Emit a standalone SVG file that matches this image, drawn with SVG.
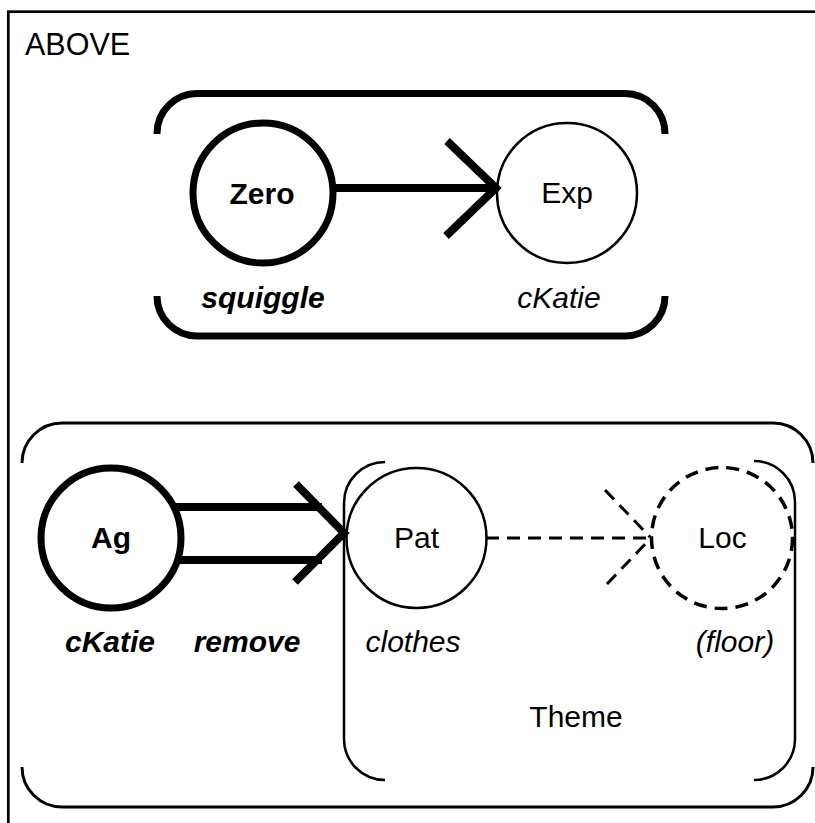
<svg xmlns="http://www.w3.org/2000/svg" width="815" height="823" viewBox="0 0 815 823">
<style>
text{font-family:"Liberation Sans",Arial,sans-serif;font-size:30px;fill:#000}
.c{text-anchor:middle}
.b{font-weight:bold}
.i{font-style:italic}
.ln{fill:none;stroke:#000}
</style>
<rect width="815" height="823" fill="#fff"/>
<g id="frame">
<rect class="ln" x="8.3" y="11.7" width="1000" height="1000" stroke-width="2.7"/>
<text x="25" y="55" style="font-size:30.5px">ABOVE</text>
</g>
<g id="top-group">
<path class="ln" stroke-width="7" d="M157,134 A40,40 0 0 1 197,93.5 L625,93.5 A40,40 0 0 1 665,134 M157,296 A40,40 0 0 0 197,336 L625,336 A40,40 0 0 0 665,296"/>
</g>
<g id="bottom-group">
<path class="ln" stroke-width="3" d="M22,463 A40,40 0 0 1 62,423 L773,423 A40,40 0 0 1 813,463 M22,767 A40,40 0 0 0 62,807 L773,807 A40,40 0 0 0 813,767"/>
</g>
<g id="theme">
<path class="ln" stroke-width="2.5" d="M385,462 A41,41 0 0 0 344,503 L344,739 A41,41 0 0 0 385,780 M754,461 A41,41 0 0 1 795,502 L795,739 A41,41 0 0 1 754,780"/>
<text class="c" x="576" y="727">Theme</text>
</g>
<g id="connectors">
<line class="ln" x1="334" y1="188" x2="492" y2="188" stroke-width="8"/>
<polyline class="ln" points="447,141 496,188 446,236" stroke-width="8"/>
<line class="ln" x1="172" y1="507" x2="322" y2="507" stroke-width="8"/>
<line class="ln" x1="175" y1="560" x2="322" y2="560" stroke-width="8"/>
<polyline class="ln" points="296,484 344,533 295,582" stroke-width="8"/>
<line class="ln" x1="486" y1="538" x2="650" y2="538" stroke-width="3" stroke-dasharray="13 8"/>
<path class="ln" d="M605,490 L650,537 M607,584 L650,539" stroke-width="3" stroke-dasharray="13 8"/>
</g>
<g id="node-zero">
<circle class="ln" cx="263" cy="193" r="70" stroke-width="7"/>
<text class="c b" x="262" y="204">Zero</text>
<text class="c b i" x="263" y="308">squiggle</text>
</g>
<g id="node-exp">
<circle class="ln" cx="567" cy="193" r="70" stroke-width="2.5"/>
<text class="c" x="567" y="203">Exp</text>
<text class="c i" x="559" y="308">cKatie</text>
</g>
<g id="node-ag">
<circle class="ln" cx="111" cy="538" r="70" stroke-width="7"/>
<text class="c b" x="111" y="548">Ag</text>
<text class="c b i" x="110" y="652">cKatie</text>
<text class="c b i" x="247" y="652">remove</text>
</g>
<g id="node-pat">
<circle class="ln" cx="416.5" cy="538" r="70" stroke-width="2.5"/>
<text class="c" x="416.5" y="548">Pat</text>
<text class="c i" x="413" y="652">clothes</text>
</g>
<g id="node-loc">
<circle class="ln" cx="722" cy="538" r="70.5" stroke-width="3.5" stroke-dasharray="13 8"/>
<text class="c" x="722.5" y="548">Loc</text>
<text class="c i" x="735" y="652">(floor)</text>
</g>
</svg>
